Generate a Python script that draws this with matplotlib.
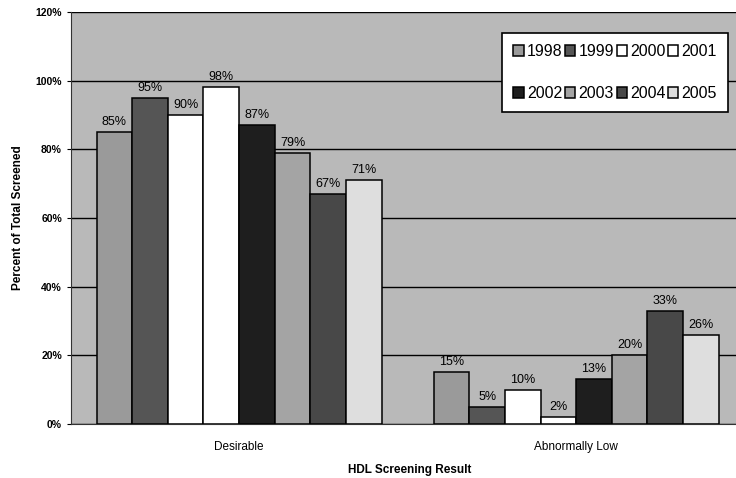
import numpy as np
import matplotlib.pyplot as plt

plt.rcParams['font.family'] = ['Liberation Sans', 'DejaVu Sans']

categories = ['Desirable', 'Abnormally Low']
years = ['1998', '1999', '2000', '2001', '2002', '2003', '2004', '2005']
values = {
    '1998': [85, 15],
    '1999': [95, 5],
    '2000': [90, 10],
    '2001': [98, 2],
    '2002': [87, 13],
    '2003': [79, 20],
    '2004': [67, 33],
    '2005': [71, 26],
}
colors = ['#9a9a9a', '#555555', '#ffffff', '#ffffff', '#1e1e1e', '#a4a4a4', '#484848', '#dedede']


def main():
    fig = plt.figure(figsize=(7.36, 4.78), dpi=100)
    ax = fig.add_axes([0.0965, 0.113, 0.92, 0.862])
    ax.set_facecolor('#b9b9b9')

    x = np.arange(len(categories))
    width = 0.1057
    handles = []
    for i, (yr, c) in enumerate(zip(years, colors)):
        pos = x + (i - 3.5) * width
        bars = ax.bar(pos, values[yr], width, color=c, edgecolor='black', linewidth=1.1,
                      label=yr, zorder=3)
        handles.append(bars)
        for b, v in zip(bars, values[yr]):
            ax.text(b.get_x() + b.get_width() / 2, v + 1.2, f'{v}%', ha='center', va='bottom',
                    fontsize=9, zorder=4)

    ax.set_ylim(0, 120)
    ax.set_yticks(range(0, 121, 20))
    ax.set_yticklabels([f'{t}%' for t in range(0, 121, 20)], fontsize=7.5, fontweight='bold')
    ax.set_xlim(-0.4985, 1.51)
    ax.set_xticks(x)
    ax.set_xticklabels(categories, fontsize=8.5)
    ax.tick_params(axis='x', length=0, pad=12)
    ax.tick_params(axis='y', length=3)
    ax.grid(axis='y', color='black', linewidth=1.0, zorder=1)
    for s in ['top', 'right']:
        ax.spines[s].set_visible(False)
    ax.spines['left'].set_color('#333333')
    ax.spines['bottom'].set_color('#333333')

    ax.set_xlabel('HDL Screening Result', fontsize=8.5, fontweight='bold', labelpad=8)
    ax.set_ylabel('Percent of Total Screened', fontsize=8.5, fontweight='bold', labelpad=8)

    # legend fills column-first, so reorder to get 1998-2001 on the first row
    order = [0, 4, 1, 5, 2, 6, 3, 7]
    leg = ax.legend([handles[k] for k in order], [years[k] for k in order],
                    ncol=4, loc='upper right', bbox_to_anchor=(0.9705, 0.949), borderaxespad=0,
                    fontsize=11.5, frameon=True, fancybox=False, edgecolor='black', framealpha=1,
                    handlelength=0.65, handleheight=0.65, handletextpad=0.2, columnspacing=0.15,
                    labelspacing=1.7, borderpad=0.7)
    leg.get_frame().set_linewidth(1.2)

    fig.savefig('out.png', dpi=100)


if __name__ == '__main__':
    main()
